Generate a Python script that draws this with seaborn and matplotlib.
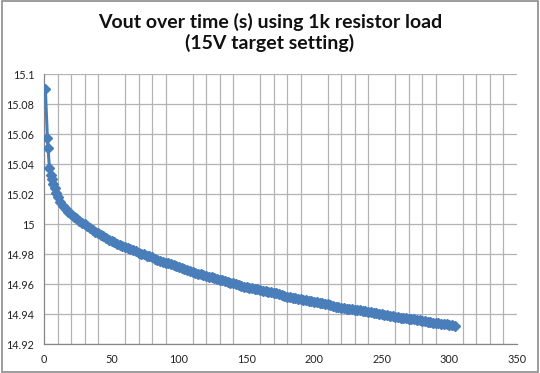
import matplotlib
matplotlib.use("Agg")
import matplotlib.pyplot as plt
import matplotlib.ticker as mticker
from matplotlib.patches import Rectangle
import seaborn as sns
import pandas as pd

early_time = [1, 2.5, 3, 4, 5, 6, 7, 8, 9, 10, 12, 14, 16, 18, 20, 22, 24, 26, 28]
early_vout = [15.090, 15.0575, 15.0504, 15.0375, 15.033, 15.030, 15.027, 15.024,
              15.021, 15.018, 15.015, 15.012, 15.010, 15.008, 15.007, 15.005,
              15.004, 15.002, 15.001]
late_time = list(range(30, 305, 2))
late_vout = [
    15.0000, 14.9987, 14.9975, 14.9962, 14.9950,
    14.9938, 14.9927, 14.9917, 14.9906, 14.9896,
    14.9885, 14.9877, 14.9870, 14.9863, 14.9855,
    14.9848, 14.9840, 14.9833, 14.9825, 14.9818,
    14.9810, 14.9803, 14.9797, 14.9790, 14.9784,
    14.9777, 14.9770, 14.9763, 14.9756, 14.9749,
    14.9742, 14.9737, 14.9732, 14.9726, 14.9721,
    14.9716, 14.9709, 14.9702, 14.9694, 14.9687,
    14.9680, 14.9675, 14.9670, 14.9665, 14.9660,
    14.9655, 14.9650, 14.9645, 14.9640, 14.9635,
    14.9630, 14.9625, 14.9620, 14.9614, 14.9609,
    14.9604, 14.9599, 14.9594, 14.9588, 14.9583,
    14.9578, 14.9576, 14.9573, 14.9569, 14.9564,
    14.9560, 14.9556, 14.9553, 14.9549, 14.9546,
    14.9542, 14.9537, 14.9531, 14.9526, 14.9520,
    14.9515, 14.9512, 14.9508, 14.9505, 14.9501,
    14.9498, 14.9494, 14.9491, 14.9487, 14.9484,
    14.9480, 14.9477, 14.9474, 14.9471, 14.9468,
    14.9465, 14.9460, 14.9455, 14.9450, 14.9445,
    14.9440, 14.9438, 14.9436, 14.9434, 14.9432,
    14.9430, 14.9427, 14.9424, 14.9421, 14.9418,
    14.9415, 14.9412, 14.9409, 14.9406, 14.9403,
    14.9400, 14.9396, 14.9392, 14.9388, 14.9384,
    14.9380, 14.9378, 14.9376, 14.9374, 14.9372,
    14.9370, 14.9367, 14.9364, 14.9361, 14.9358,
    14.9355, 14.9352, 14.9349, 14.9346, 14.9343,
    14.9340, 14.9338, 14.9336, 14.9334, 14.9332,
    14.9330, 14.9324, 14.9318,
]
x_ticks = [0, 50, 100, 150, 200, 250, 300, 350]
y_ticks = [14.92, 14.94, 14.96, 14.98, 15.0, 15.02, 15.04, 15.06, 15.08, 15.1]
title = "Vout over time (s) using 1k resistor load\n(15V target setting)"

df = pd.DataFrame({"time": early_time + late_time, "vout": early_vout + late_vout})

sns.set_theme(style="white")
plt.rcParams["font.family"] = ["Lato", "DejaVu Sans"]

fig = plt.figure(figsize=(5.4, 3.73), dpi=100)
ax = fig.add_axes([0.0815, 0.0777, 0.8755, 0.7239])

line_col = "#4a7ebb"
sns.lineplot(data=df, x="time", y="vout", ax=ax, color=line_col, linewidth=2.2,
             marker="D", markersize=5.5, markeredgecolor=line_col,
             markeredgewidth=1.0, estimator=None, sort=False, zorder=3)

ax.set_xlim(0, 350)
ax.set_ylim(14.92, 15.1)
ax.set_xticks(x_ticks)
ax.set_yticks(y_ticks)
ax.xaxis.set_minor_locator(mticker.MultipleLocator(10))
ax.yaxis.set_major_formatter(mticker.FuncFormatter(lambda v, p: f"{v:g}"))
grid_col = "#b3b3b3"
ax.grid(True, which="major", axis="y", color=grid_col, linewidth=0.9)
ax.grid(True, which="minor", axis="x", color=grid_col, linewidth=0.9)
ax.grid(False, which="major", axis="x")
ax.set_axisbelow(True)
for s in ["top", "right"]:
    ax.spines[s].set_visible(False)
for s in ["left", "bottom"]:
    ax.spines[s].set_color("#868686")
    ax.spines[s].set_linewidth(0.9)
ax.tick_params(axis="both", which="major", direction="out", length=4,
               width=0.9, color="#868686", labelsize=7.8, labelcolor="#222222", pad=3)
ax.tick_params(axis="x", which="minor", length=0)
ax.set_xlabel("")
ax.set_ylabel("")

fig.suptitle(title, y=0.965, fontsize=14, fontweight="bold", color="#111111",
             linespacing=1.2)

fig.patches.append(Rectangle((0.003, 0.004), 0.994, 0.992, transform=fig.transFigure,
                             fill=False, edgecolor="#8c8c8c", linewidth=1.2))

fig.savefig("out.png", dpi=100, facecolor="white")
